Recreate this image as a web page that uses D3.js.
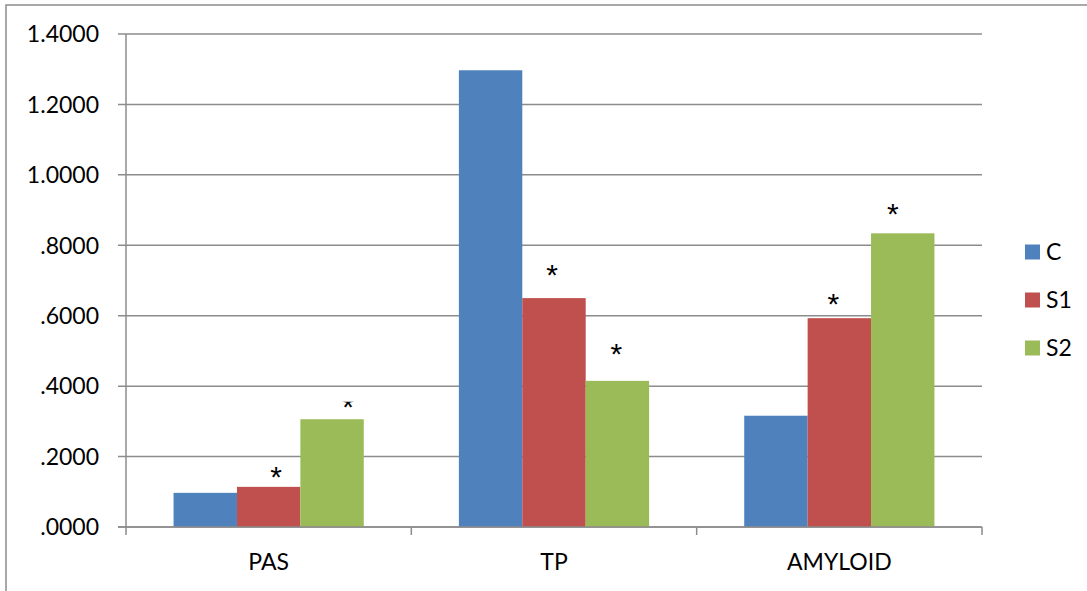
<!DOCTYPE html>
<html><head><meta charset="utf-8">
<script src="https://cdn.jsdelivr.net/npm/d3@7"></script>
<style>body{margin:0;background:#fff}svg{display:block}</style>
</head><body>
<svg id="c" width="1087" height="591"></svg>
<script>
const categories = ["PAS", "TP", "AMYLOID"];
const seriesNames = ["C", "S1", "S2"];
const valuesC  = [0.097, 1.297, 0.316];
const valuesS1 = [0.114, 0.650, 0.593];
const valuesS2 = [0.306, 0.415, 0.834];
const yTicks = [0, 0.2, 0.4, 0.6, 0.8, 1.0, 1.2, 1.4];
const tickLabels = [".0000", ".2000", ".4000", ".6000", ".8000", "1.0000", "1.2000", "1.4000"];
// significance markers: [category index, series index]
const stars = [[0,1],[0,2],[1,1],[1,2],[2,1],[2,2]];

// --- layout / style (not data) ---
const colors = ["#4F81BD", "#C0504D", "#9BBB59"];
const series = [valuesC, valuesS1, valuesS2];
const font = "Lato, 'Open Sans', sans-serif";
// hand-placed asterisk offsets (px) from the top-centre of each marked bar
const starNudge = [[7.5,-12],[16,-15],[-2,-26],[-1,-29],[-6,-17],[-10,-22]];

const svg = d3.select("#c");
// outer border (left/top visible)
svg.append("rect").attr("x",6).attr("y",5).attr("width",1200).attr("height",700)
  .attr("fill","none").attr("stroke","#8c8c8c").attr("stroke-width",1.5);

const pL = 126, pR = 982, pT = 34, pB = 527;
const y = d3.scaleLinear().domain([0, 1.4]).range([pB, pT]);
const x0 = d3.scaleBand().domain(categories).range([pL, pR]).paddingInner(0).paddingOuter(0);
const x1 = d3.scaleBand().domain(seriesNames).range([0, x0.bandwidth()]).paddingOuter(0.75).paddingInner(0);

// gridlines
svg.append("g").selectAll("line").data(yTicks).join("line")
  .attr("x1", pL - 8).attr("x2", pR).attr("y1", d => y(d)).attr("y2", d => y(d))
  .attr("stroke", "#8c8c8c").attr("stroke-width", 1.5);

// y axis line
svg.append("line").attr("x1", pL).attr("x2", pL).attr("y1", pT).attr("y2", pB)
  .attr("stroke", "#8c8c8c").attr("stroke-width", 1.5);

// y labels
svg.append("g").selectAll("text").data(yTicks).join("text")
  .attr("x", 99).attr("y", d => y(d)).attr("dy", "0.36em").attr("text-anchor", "end")
  .attr("font-family", font).attr("font-size", 23).attr("fill", "#000")
  .text((d, i) => tickLabels[i]);

// bars
const g = svg.append("g");
categories.forEach((cat, ci) => {
  series.forEach((vals, si) => {
    g.append("rect")
      .attr("x", x0(cat) + x1(seriesNames[si]))
      .attr("y", y(vals[ci]))
      .attr("width", x1.bandwidth())
      .attr("height", y(0) - y(vals[ci]))
      .attr("fill", colors[si]);
  });
});

// x axis baseline and category ticks
svg.append("line").attr("x1", pL - 8).attr("x2", pR).attr("y1", pB).attr("y2", pB)
  .attr("stroke", "#8c8c8c").attr("stroke-width", 1.5);
const catEdges = categories.map(c => x0(c)).concat([pR]);
svg.append("g").selectAll("line").data(catEdges).join("line")
  .attr("x1", d => d).attr("x2", d => d).attr("y1", pB).attr("y2", pB + 8)
  .attr("stroke", "#8c8c8c").attr("stroke-width", 1.5);

// category labels
svg.append("g").selectAll("text").data(categories).join("text")
  .attr("x", d => x0(d) + x0.bandwidth() / 2).attr("y", 562).attr("dy", "0.36em")
  .attr("text-anchor", "middle").attr("font-family", font).attr("font-size", 23)
  .attr("fill", "#000").text(d => d);

// asterisks
const starX = (d, i) => x0(categories[d[0]]) + x1(seriesNames[d[1]]) + x1.bandwidth() / 2 + starNudge[i][0];
const starY = (d, i) => y(series[d[1]][d[0]]) + starNudge[i][1];
// the PAS/S2 marker is half hidden in the original
svg.append("defs").append("clipPath").attr("id", "clipPas")
  .append("rect").attr("x", 0).attr("y", starY(stars[1], 1) - 2.5).attr("width", 1087).attr("height", 600);
svg.append("g").selectAll("text").data(stars).join("text")
  .attr("x", starX).attr("y", starY).attr("dy", "0.42em")
  .attr("text-anchor", "middle").attr("font-family", "'Liberation Sans', Arial, sans-serif").attr("font-size", 30)
  .attr("clip-path", (d, i) => i === 1 ? "url(#clipPas)" : null)
  .attr("fill", "#000").text("*");

// legend
const lg = svg.append("g");
seriesNames.forEach((s, i) => {
  const ly = 252 + i * 48;
  lg.append("rect").attr("x", 1025).attr("y", ly - 7.5).attr("width", 15).attr("height", 15).attr("fill", colors[i]);
  lg.append("text").attr("x", 1046).attr("y", ly).attr("dy", "0.36em")
    .attr("font-family", font).attr("font-size", 23).attr("fill", "#000").text(s);
});
</script>
</body></html>
